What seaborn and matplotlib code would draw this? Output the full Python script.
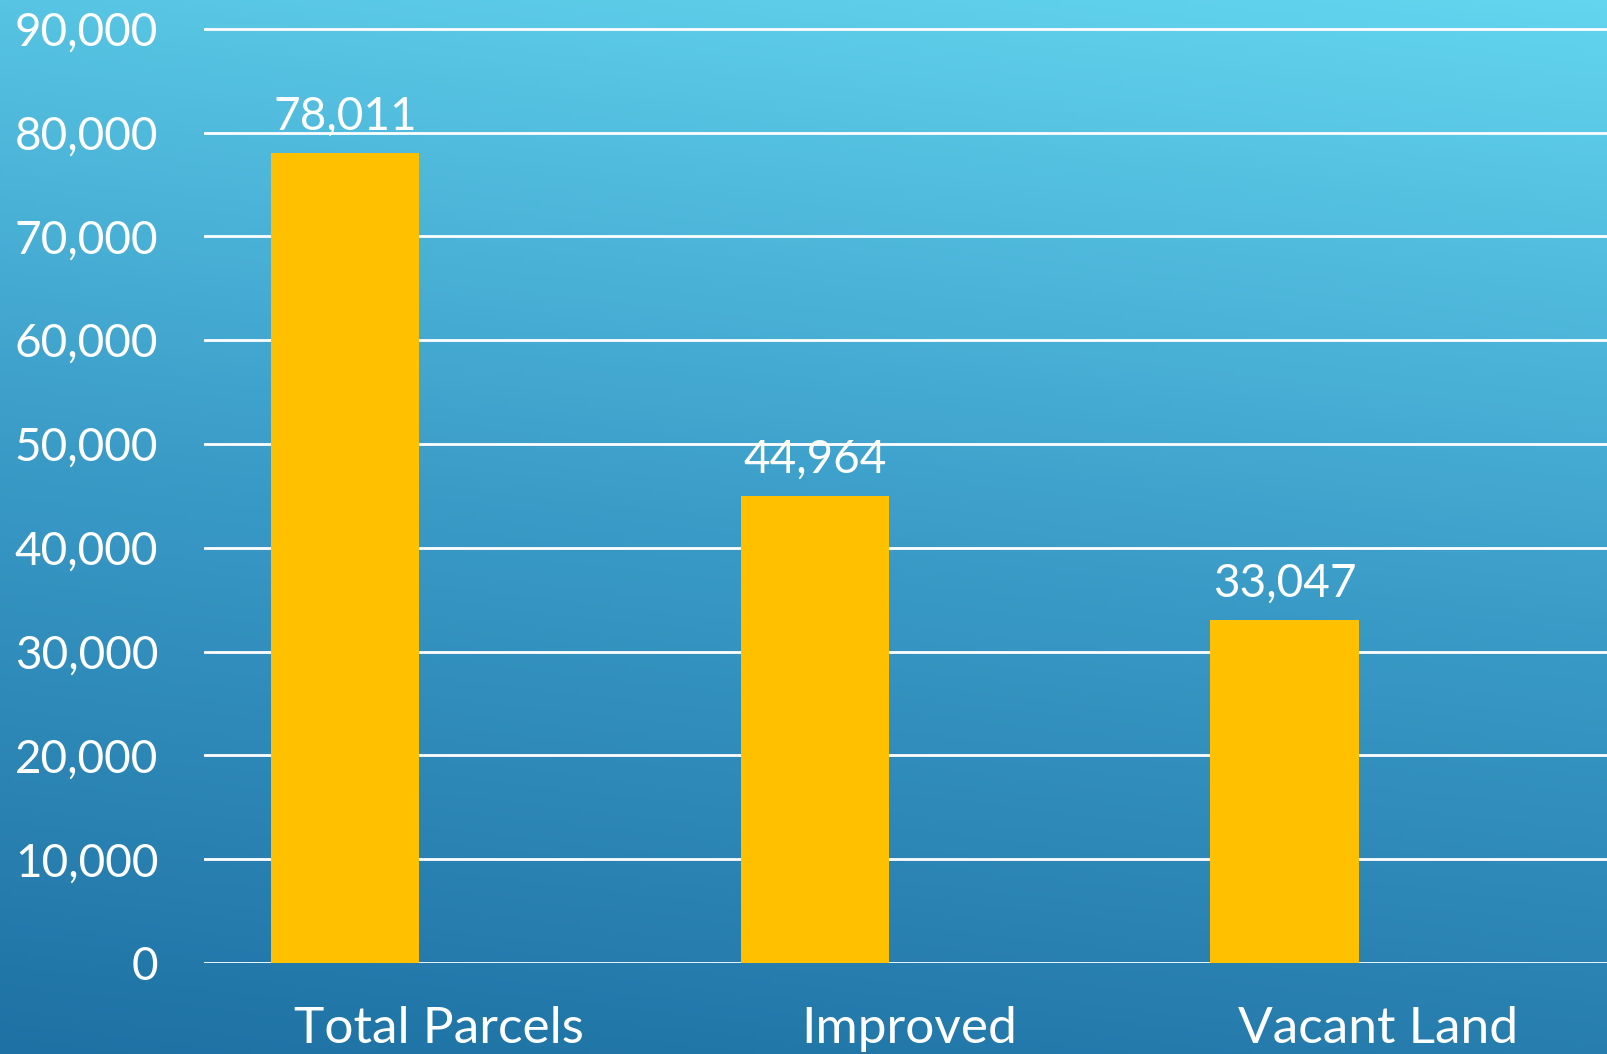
import numpy as np
import pandas as pd
import matplotlib
matplotlib.use("Agg")
import matplotlib.pyplot as plt
import matplotlib.ticker as mticker
from matplotlib.colors import LinearSegmentedColormap
import seaborn as sns

# chart data
categories = ["Total Parcels", "Improved", "Vacant Land"]
parcel_counts = [78011, 44964, 33047]
series_name = "Parcels"
y_ticks = [0, 10000, 20000, 30000, 40000, 50000, 60000, 70000, 80000, 90000]

df = pd.DataFrame({"category": categories, "count": parcel_counts, "series": series_name})

sns.set_theme(style="white")
plt.rcParams["font.family"] = ["Lato", "DejaVu Sans"]

fig = plt.figure(figsize=(16.07, 10.54), dpi=100)

# gradient background
bg = fig.add_axes([0, 0, 1, 1], zorder=-10)
gy, gx = np.mgrid[0:1:300j, 0:1:300j]
t = 0.85 * gy + 0.15 * gx
cmap = LinearSegmentedColormap.from_list("bg", ["#1E71A4", "#3B9CC8", "#63D5EF"])
bg.imshow(t, cmap=cmap, origin="lower", extent=[0, 1, 0, 1], aspect="auto")
bg.axis("off")

# axes runs slightly past the right edge, like the source slide
ax = fig.add_axes([0.127, 0.0863, 0.877, 0.8963])
ax.patch.set_alpha(0)

sns.barplot(data=df, x="category", y="count", hue="series",
            hue_order=[series_name, "_spacer"], palette={series_name: "#FFC000", "_spacer": "#FFC000"},
            width=0.8, gap=0.21, dodge=True, saturation=1, linewidth=0,
            legend=False, ax=ax, zorder=3)

ax.set_ylim(0, 91000)
ax.set_xlim(-0.5, 2.5)
ax.set_yticks(y_ticks)
ax.yaxis.set_major_formatter(mticker.FuncFormatter(lambda v, p: f"{int(v):,}"))
ax.grid(axis="y", color="white", linewidth=2, zorder=1)
ax.set_axisbelow(True)
for s in ax.spines.values():
    s.set_visible(False)
ax.set_xlabel("")
ax.set_ylabel("")
ax.tick_params(axis="y", length=0, pad=33, labelsize=33, labelcolor="white")
ax.tick_params(axis="x", length=0, pad=31, labelsize=37, labelcolor="white")

ax.bar_label(ax.containers[0], labels=[f"{v:,}" for v in parcel_counts],
             padding=11, fontsize=33, color="white")

fig.savefig("out.png", dpi=100)
